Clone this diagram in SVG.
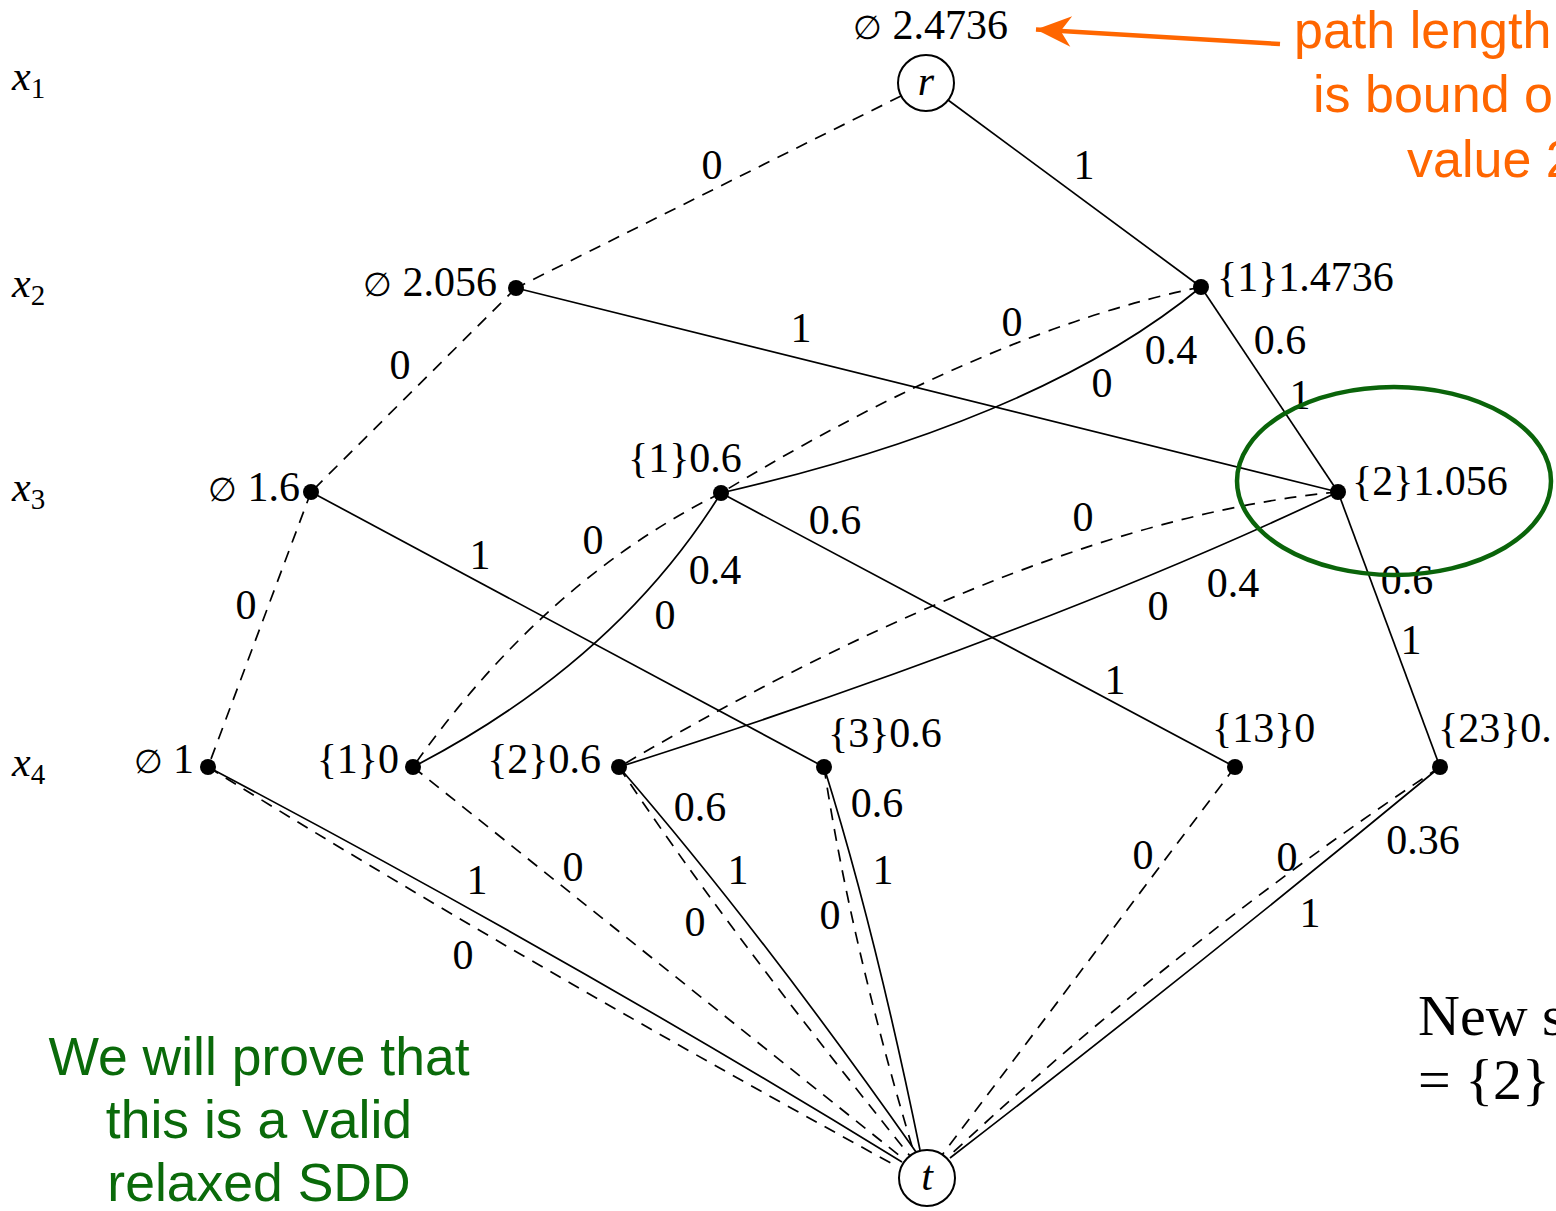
<svg xmlns="http://www.w3.org/2000/svg" width="1556" height="1211" viewBox="0 0 1556 1211">
<defs>
<style>
.e{fill:none;stroke:#000;stroke-width:1.7}
.d{fill:none;stroke:#000;stroke-width:1.7;stroke-dasharray:12,9}
.lb{font-family:"Liberation Serif",serif;font-size:42px;fill:#000}
.es{font-size:33px}
.el{font-family:"Liberation Serif",serif;font-size:42px;fill:#000;text-anchor:middle}
.var{font-family:"Liberation Serif",serif;font-size:42px;font-style:italic;fill:#000}
.sub{font-style:normal;font-size:29px}
.dot{fill:#000}
.term{fill:#fff;stroke:#000;stroke-width:2}
.or{font-family:"Liberation Sans",Arial,sans-serif;font-size:52px;fill:#FF6600}
.gr{font-family:"Liberation Sans",Arial,sans-serif;font-size:53.5px;fill:#0A6A0A;text-anchor:middle}
.nw{font-family:"Liberation Serif",serif;font-size:58px;fill:#000}
</style>
<marker id="oa" markerUnits="userSpaceOnUse" markerWidth="40" markerHeight="40" refX="0" refY="0" viewBox="-32 -16 34 32" orient="auto">
<path d="M0,0 L-30,-13 L-21,0 L-30,13 Z" fill="#FF6600"/>
</marker>
</defs>

<g id="layers">
<text class="var" x="12" y="90">x<tspan class="sub" dy="8">1</tspan></text>
<text class="var" x="12" y="297">x<tspan class="sub" dy="8">2</tspan></text>
<text class="var" x="12" y="501">x<tspan class="sub" dy="8">3</tspan></text>
<text class="var" x="12" y="776">x<tspan class="sub" dy="8">4</tspan></text>
</g>

<g id="connectors">
<path class="d" d="M901,96 L516,288"/>
<path class="e" d="M948,100 L1201,287"/>
<path class="d" d="M516,288 L311,492"/>
<path class="e" d="M516,288 L1338,492"/>
<path class="d" d="M1201,287 Q990,330 721,493"/>
<path class="e" d="M1201,287 Q1040,420 721,493"/>
<path class="e" d="M1201,287 L1338,492"/>
<path class="d" d="M311,492 L208,767"/>
<path class="e" d="M311,492 L824,767"/>
<path class="d" d="M721,493 Q545,580 413,767"/>
<path class="e" d="M721,493 Q616,662 413,767"/>
<path class="e" d="M721,493 L1235,767"/>
<path class="d" d="M1338,492 Q1040,520 619,767"/>
<path class="e" d="M1338,492 Q1048,630 619,767"/>
<path class="e" d="M1338,492 L1440,767"/>
<path class="e" d="M208,767 Q570,958 902,1162"/>
<path class="d" d="M208,767 Q520,960 898,1167"/>
<path class="d" d="M413,767 L905,1160"/>
<path class="e" d="M619,767 Q760,930 916,1152"/>
<path class="d" d="M619,767 Q720,920 910,1156"/>
<path class="e" d="M824,767 Q875,930 920,1150"/>
<path class="d" d="M824,767 Q850,940 914,1153"/>
<path class="d" d="M1235,767 L942,1155"/>
<path class="e" d="M1440,767 Q1200,965 950,1158"/>
<path class="d" d="M1440,767 Q1180,940 945,1160"/>
</g>

<g id="edge-labels">
<text class="el" x="712" y="179">0</text>
<text class="el" x="1084" y="179">1</text>
<text class="el" x="400" y="379">0</text>
<text class="el" x="801" y="342">1</text>
<text class="el" x="1012" y="336">0</text>
<text class="el" x="1171" y="364">0.4</text>
<text class="el" x="1102" y="397">0</text>
<text class="el" x="1280" y="354">0.6</text>
<text class="el" x="1300" y="409">1</text>
<text class="el" x="593" y="554">0</text>
<text class="el" x="715" y="584">0.4</text>
<text class="el" x="665" y="629">0</text>
<text class="el" x="835" y="534">0.6</text>
<text class="el" x="480" y="569">1</text>
<text class="el" x="246" y="619">0</text>
<text class="el" x="1083" y="531">0</text>
<text class="el" x="1233" y="597">0.4</text>
<text class="el" x="1158" y="620">0</text>
<text class="el" x="1407" y="594">0.6</text>
<text class="el" x="1411" y="654">1</text>
<text class="el" x="1115" y="694">1</text>
<text class="el" x="477" y="894">1</text>
<text class="el" x="463" y="969">0</text>
<text class="el" x="573" y="881">0</text>
<text class="el" x="700" y="821">0.6</text>
<text class="el" x="738" y="884">1</text>
<text class="el" x="695" y="936">0</text>
<text class="el" x="877" y="817">0.6</text>
<text class="el" x="883" y="884">1</text>
<text class="el" x="830" y="929">0</text>
<text class="el" x="1143" y="869">0</text>
<text class="el" x="1287" y="871">0</text>
<text class="el" x="1310" y="927">1</text>
<text class="el" x="1423" y="854">0.36</text>
</g>

<g id="node-r">
<circle class="term" cx="926" cy="83" r="28"/>
<text class="var" x="926" y="95" text-anchor="middle">r</text>
<text class="lb" x="853" y="39"><tspan class="es">∅</tspan> 2.4736</text>
</g>
<g id="node-A">
<circle class="dot" cx="516" cy="288" r="8"/>
<text class="lb" x="497" y="296" text-anchor="end"><tspan class="es">∅</tspan> 2.056</text>
</g>
<g id="node-B">
<circle class="dot" cx="1201" cy="287" r="8"/>
<text class="lb" x="1217" y="291">{1}1.4736</text>
</g>
<g id="node-C">
<circle class="dot" cx="311" cy="492" r="8"/>
<text class="lb" x="300" y="501" text-anchor="end"><tspan class="es">∅</tspan> 1.6</text>
</g>
<g id="node-D">
<circle class="dot" cx="721" cy="493" r="8"/>
<text class="lb" x="628" y="472">{1}0.6</text>
</g>
<g id="node-E">
<circle class="dot" cx="1338" cy="492" r="8"/>
<text class="lb" x="1352" y="495">{2}1.056</text>
</g>
<g id="node-F">
<circle class="dot" cx="208" cy="767" r="8"/>
<text class="lb" x="194" y="773" text-anchor="end"><tspan class="es">∅</tspan> 1</text>
</g>
<g id="node-G">
<circle class="dot" cx="413" cy="767" r="8"/>
<text class="lb" x="399" y="773" text-anchor="end">{1}0</text>
</g>
<g id="node-H">
<circle class="dot" cx="619" cy="767" r="8"/>
<text class="lb" x="601" y="773" text-anchor="end">{2}0.6</text>
</g>
<g id="node-I">
<circle class="dot" cx="824" cy="767" r="8"/>
<text class="lb" x="828" y="747">{3}0.6</text>
</g>
<g id="node-J">
<circle class="dot" cx="1235" cy="767" r="8"/>
<text class="lb" x="1212" y="742">{13}0</text>
</g>
<g id="node-K">
<circle class="dot" cx="1440" cy="767" r="8"/>
<text class="lb" x="1438" y="742">{23}0.</text>
</g>
<g id="node-t">
<circle class="term" cx="927" cy="1178" r="28"/>
<text class="var" x="927" y="1190" text-anchor="middle">t</text>
</g>

<g id="annotations">
<ellipse cx="1394" cy="481" rx="157" ry="94" fill="none" stroke="#0A640A" stroke-width="4.5"/>
<line x1="1280" y1="44" x2="1036" y2="29.5" stroke="#FF6600" stroke-width="4.5" marker-end="url(#oa)"/>
<text class="or" x="1294" y="48">path length</text>
<text class="or" x="1313" y="112">is bound o</text>
<text class="or" x="1407" y="177">value 2</text>
<text class="gr" x="259" y="1075">We will prove that</text>
<text class="gr" x="259" y="1138">this is a valid</text>
<text class="gr" x="259" y="1201">relaxed SDD</text>
<text class="nw" x="1418" y="1035">New s</text>
<text class="nw" x="1418" y="1099">= {2}</text>
</g>
</svg>
